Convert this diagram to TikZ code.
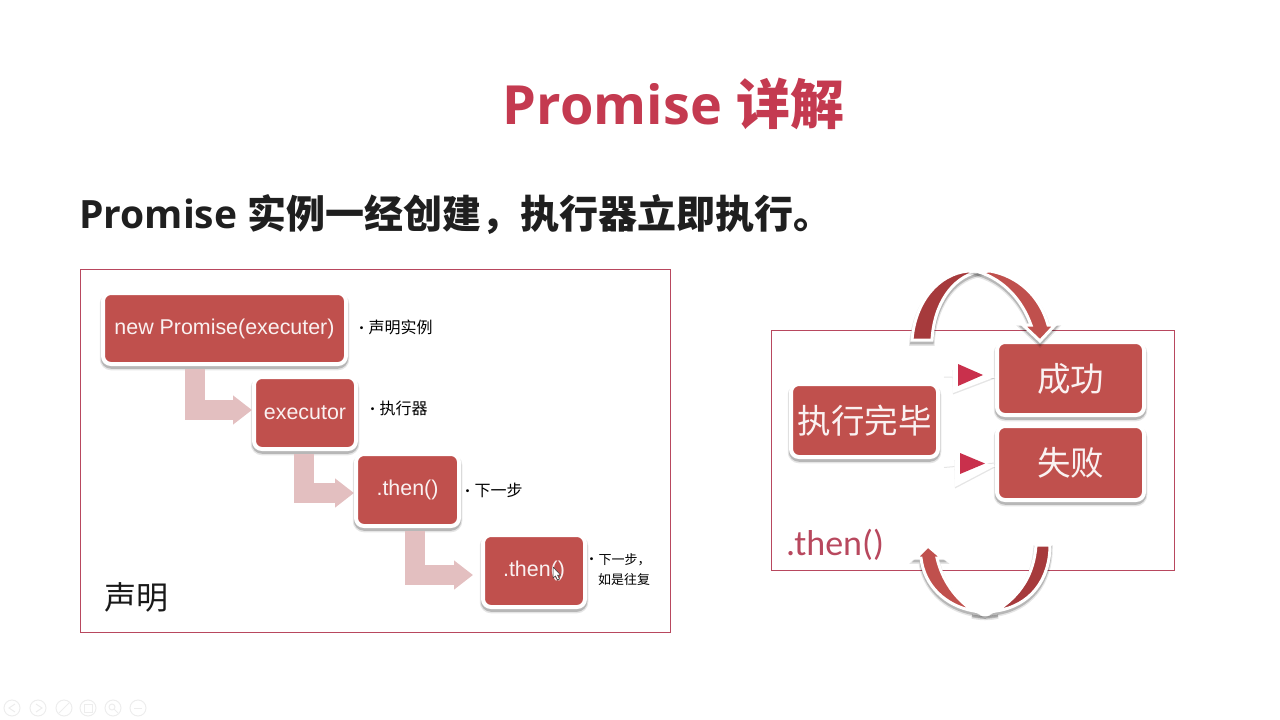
\documentclass[tikz,border=0pt]{standalone}
\usepackage{fontspec}
\setmainfont{Liberation Sans}
\newfontfamily\cjk{Noto Sans CJK SC}
\newfontfamily\headfont{Open Sans}
\newfontfamily\thenfont{Carlito}
\usepackage{tikz}
\usetikzlibrary{arrows.meta}
\definecolor{boxred}{HTML}{C0504D}
\definecolor{darkred}{HTML}{A63A3C}
\definecolor{headred}{HTML}{C43A50}
\definecolor{framered}{HTML}{B8485E}
\definecolor{steppink}{HTML}{E3BFC0}
\definecolor{tipred}{HTML}{C9304C}
\newcommand{\notedot}{{\fontsize{14}{14}\selectfont\textbullet}\kern0pt}
\newcommand{\widecomma}{\symbol{"FF0C}}
\tikzset{
  softshadow/.style={
    preaction={draw=black,draw opacity=0.10,line width=#1+2.5pt,transform canvas={yshift=-3pt}},
    preaction={draw=black,draw opacity=0.20,line width=#1+0.5pt,transform canvas={yshift=-2.5pt}}},
  promisebox/.style={draw=white,line width=4pt,fill=boxred,rounded corners=8pt,inner sep=0pt,
    text=white!92!boxred,softshadow=4pt},
  codebox/.style={promisebox,font=\fontsize{21.4}{24}\selectfont},
  wordbox/.style={promisebox,font=\cjk\fontsize{33.5}{38}\selectfont},
  notetext/.style={anchor=west,inner sep=0pt,font=\cjk\fontsize{16}{21}\selectfont,align=left},
  framebox/.style={draw=framered,line width=1pt},
  steparrow/.style={draw=steppink,line width=20pt,shorten <=3pt,
    -{Triangle[length=19pt,width=28pt]}},
  linkstub/.style={draw=black!10,line width=1pt},
  wedgeback/.style={fill=white,preaction={fill=black,fill opacity=0.10,transform canvas={yshift=-1.5pt}}},
  turnarrow/.style={draw=white,line width=3pt,line join=miter,softshadow=3pt},
  toolring/.style={draw=black!7,line width=1pt},
}
\begin{document}
\begin{tikzpicture}[x=1pt,y=-1pt]
  \useasboundingbox (0,0) rectangle (1280,720);

  % headings
  \node[inner sep=0pt,text=headred,font=\bfseries\fontsize{54}{58}\selectfont] (title) at (673.5,104)
    {\headfont Promise \cjk 详解};
  \node[anchor=west,inner sep=0pt,text=black!88,font=\bfseries\fontsize{39}{44}\selectfont] (subtitle) at (79,215)
    {\headfont Promise \cjk 实例一经创建\widecomma 执行器立即执行。};

  % left frame
  \draw[framebox] (80,269) -- ++ (590,0) -- ++ (0,363) -- ++ (-590,0) -- cycle;
  \node[inner sep=0pt,font=\cjk\fontsize{32}{36}\selectfont,text=black!90] (declare) at (136.5,597) {声明};

  \node[codebox,minimum width=243pt,minimum height=71pt] (newbox) at (224.5,328.5) {new Promise(executer)};
  \node[codebox,minimum width=102pt,minimum height=72pt] (executor) at (305,413) {executor};
  \node[codebox,minimum width=103pt,minimum height=72pt] (thenone) at (407.5,490) {.then()};
  \node[codebox,minimum width=102pt,minimum height=72pt] (thentwo) at (534,571) {.then()};

  \draw[steparrow] ([xshift=94pt]newbox.south west) |- ([yshift=3pt]executor.west);
  \draw[steparrow] ([xshift=52pt]executor.south west) |- ([yshift=-3pt]thenone.west);
  \draw[steparrow,shorten >=8pt] ([xshift=60.5pt]thenone.south west) |- ([yshift=-4pt]thentwo.west);

  \node[notetext] (notenew) at (354.5,327) {\notedot 声明实例};
  \node[notetext] (noteexec) at (365.5,408) {\notedot 执行器};
  \node[notetext] (notethen) at (460.5,490) {\notedot 下一步};
  \node[notetext,font=\cjk\fontsize{13}{20}\selectfont] (noteloop) at (584.5,570)
    {\notedot 下一步\widecomma\\\hspace*{13.5pt}如是往复};

  % mouse pointer
  \draw[black!80,fill=white,line width=0.5pt] (553,567) -- ++ (0,11) -- ++ (2.5,-2) -- ++ (2,4) -- ++ (2,-1) -- ++ (-2,-4) -- ++ (3,0) -- cycle;

  % right frame
  \draw[framebox] (771,330) -- ++ (403,0) -- ++ (0,240) -- ++ (-403,0) -- cycle;
  \node[inner sep=0pt,font=\thenfont\fontsize{36}{40}\selectfont,text=framered] (thenlabel) at (835,545) {.then()};

  \node[wordbox,minimum width=147pt,minimum height=73pt] (done) at (864.5,420.5) {执行完毕};
  \node[wordbox,minimum width=147pt,minimum height=73pt] (success) at (1070.5,378.5) {成功};
  \node[wordbox,minimum width=147pt,minimum height=74pt] (fail) at (1070.5,463) {失败};

  \coordinate (tipok) at (958,375);
  \coordinate (tipfail) at (960,463.5);
  \draw[linkstub] (done.east |- tipok) ++ (4,2) -- (success.west);
  \draw[linkstub] (done.east |- tipfail) ++ (4,4) -- (fail.west);
  \fill[wedgeback] (tipok) ++ (-6,-12) -- (995,377) -- ++ (-42,16) -- cycle;
  \fill[wedgeback] (tipfail) ++ (-6,-12) -- (995,466) -- ++ (-40,21) -- cycle;
  \fill[tipred] (tipok) ++ (0,-11) -- ++ (25,11) -- ++ (-25,11) -- cycle;
  \fill[tipred] (tipfail) ++ (0,-10.5) -- ++ (25,10.5) -- ++ (-25,10.5) -- cycle;

  % turning arrows
  \filldraw[turnarrow,fill=darkred] (912,340) .. controls (915,302) and (938,274) .. (968,271)
    -- (977,272) .. controls (952,278) and (934,304) .. (932,340) -- cycle;
  \filldraw[turnarrow,fill=boxred] (990,271) .. controls (1018,276) and (1040,296) .. (1048,325)
    -- (1055,325) -- (1040,341) -- (1023,325) -- (1031,325)
    .. controls (1022,300) and (1004,280) .. (979,272) -- cycle;
  \draw[white,line width=3pt,softshadow=3pt] (972,613) .. controls (982,615) and (988,615) .. (998,613);
  \filldraw[turnarrow,fill=darkred] (1036,545) -- (1050,545) .. controls (1050,580) and (1030,606) .. (996,611)
    .. controls (1020,596) and (1034,575) .. (1036,545) -- cycle;
  \filldraw[turnarrow,fill=boxred] (928,546) -- (942,558) -- (937,558)
    .. controls (942,580) and (956,600) .. (974,611)
    .. controls (945,606) and (924,585) .. (921,558) -- (916,558) -- cycle;

  % slide show buttons
  \foreach \x in {12,38,64,88,113,138} {
    \draw[toolring] (\x,708) circle (8);
  }
  \draw[toolring] (15,704) -- ++ (-6,4) -- ++ (6,4);
  \draw[toolring] (36,704) -- ++ (6,4) -- ++ (-6,4);
  \draw[toolring] (59,713) -- ++ (10,-10);
  \draw[toolring] (84,704) -- ++ (8,0) -- ++ (0,8) -- ++ (-8,0) -- cycle;
  \draw[toolring] (112,707) circle (3) ++ (2,2) -- ++ (4,4);
  \draw[toolring] (134,708) -- ++ (8,0);
\end{tikzpicture}
\end{document}
